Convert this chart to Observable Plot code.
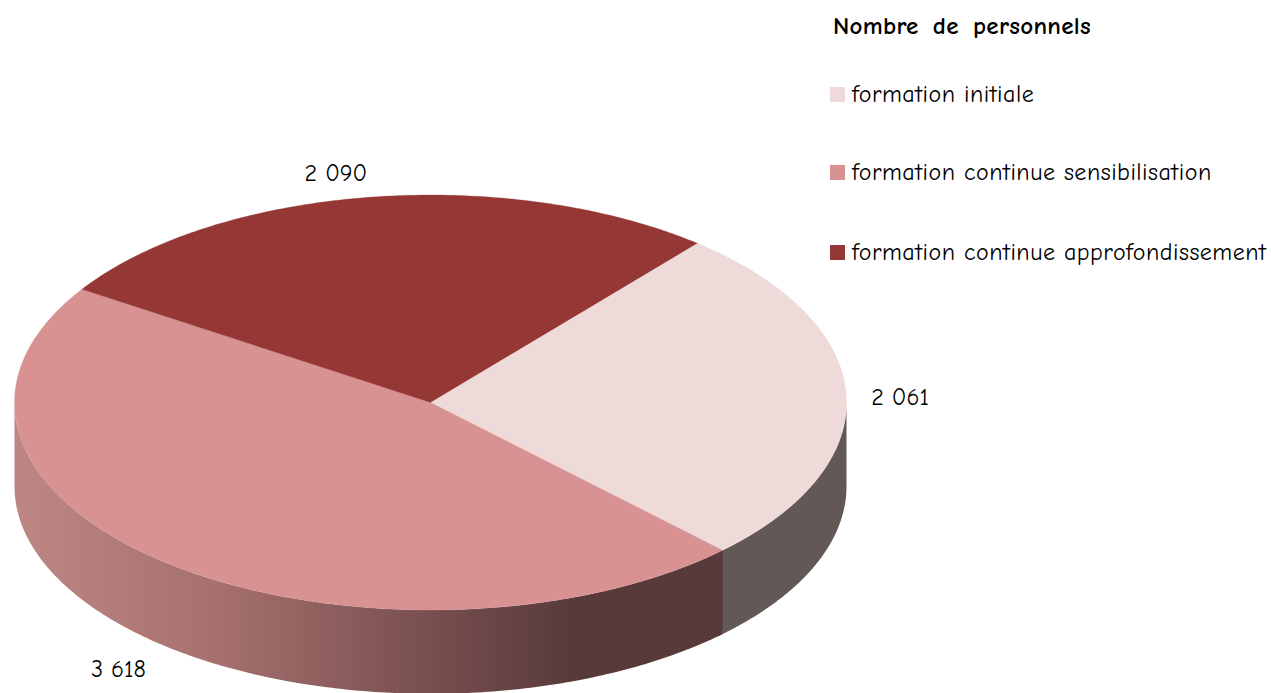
<!DOCTYPE html>
<html lang="fr">
<head>
<meta charset="utf-8">
<script src="https://cdn.jsdelivr.net/npm/d3@7"></script>
<script src="https://cdn.jsdelivr.net/npm/@observablehq/plot@0.6"></script>
<style>
  html, body { margin: 0; padding: 0; background: #fff; overflow: hidden; }
  #wrap { position: relative; width: 1271px; height: 693px; overflow: hidden; }
  #wrap svg { display: block; }
  .legend { font-family: "Comic Neue", "Open Sans", sans-serif; color: #000; }
  .legend div { position: absolute; white-space: nowrap; }
  .legend .title { left: 833px; top: 11px; font-size: 25px; font-weight: 700; line-height: 30px; word-spacing: 5px; letter-spacing: 0.3px; }
  .legend .item { left: 852px; font-size: 24px; line-height: 28px; letter-spacing: 0.5px; }
  .legend .swatch { left: 830px; width: 15px; height: 15px; }
</style>
</head>
<body>
<div id="wrap"></div>
<script>
const categories = ["formation initiale", "formation continue sensibilisation", "formation continue approfondissement"];
const values = [2061, 3618, 2090];
const labels = ["2 061", "3 618", "2 090"];
const colors = ["#EFDADA", "#D89292", "#953735"];
const title = "Nombre de personnels";

const startDeg = 39.9;
const tilt = 84 / 208;      // rim depth in y-scale units
const labelNudge = [[54, 3], [-49, 106], [-33, -24]];
const rad = d => d * Math.PI / 180;

const arcs = d3.pie().sort(null).startAngle(rad(startDeg)).endAngle(rad(startDeg) + 2 * Math.PI)(values);
const rim = (a, drop = 0) => ({x: Math.sin(a), y: Math.cos(a) - drop});
const sweep = (a0, a1) => d3.range(0, 181).map(i => a0 + (a1 - a0) * i / 180);

const slices = arcs.flatMap((s, i) => [
  {x: 0, y: 0, name: categories[i]},
  ...sweep(s.startAngle, s.endAngle).map(a => ({...rim(a), name: categories[i]}))
]);

// visible side wall, cut where the light slice meets the medium slice
const joint = arcs[0].endAngle;
const wall = (a0, a1) => [
  ...sweep(a0, a1).map(a => rim(a)),
  ...sweep(a1, a0).map(a => rim(a, tilt))
];
const wallLight = wall(rad(90), joint + rad(1));
const wallMedium = wall(joint, rad(270));

const labelRows = arcs.map((s, i) => ({...rim((s.startAngle + s.endAngle) / 2), text: labels[i]}));

const gradient = () => {
  const defs = d3.create("svg:defs");
  const g = defs.append("linearGradient").attr("id", "sideShade").attr("x1", 0).attr("x2", 1).attr("y1", 0).attr("y2", 0);
  [[0, "#BC8785"], [0.278, "#A7716F"], [0.575, "#7A5050"], [0.788, "#583A3B"], [1, "#583A3B"]]
    .forEach(([o, c]) => g.append("stop").attr("offset", o).attr("stop-color", c));
  return defs.node();
};

const chart = Plot.plot({
  width: 1271,
  height: 693,
  margin: 0,
  style: {background: "transparent", fontFamily: "'Comic Neue', 'Open Sans', sans-serif"},
  x: {domain: [-1, 1], range: [14, 846], axis: null},
  y: {domain: [-1, 1], range: [609.5, 194.5], axis: null},
  color: {domain: categories, range: colors},
  marks: [
    gradient,
    Plot.line(wallLight, {x: "x", y: "y", fill: "#625856", stroke: "none"}),
    Plot.line(wallMedium, {x: "x", y: "y", fill: "url(#sideShade)", stroke: "none"}),
    Plot.line(slices, {x: "x", y: "y", z: "name", fill: "name", stroke: "name", strokeWidth: 0.3}),
    ...labelRows.map((d, i) => Plot.text([d], {
      x: "x", y: "y", text: "text",
      dx: labelNudge[i][0], dy: labelNudge[i][1],
      fontSize: 24, fontWeight: 500, fill: "#000", textAnchor: "middle"
    }))
  ]
});

const wrap = document.getElementById("wrap");
wrap.appendChild(chart);

const legend = document.createElement("div");
legend.className = "legend";
const t = document.createElement("div");
t.className = "title";
t.textContent = title;
legend.appendChild(t);
const swatchTops = [87, 165, 245];
categories.forEach((c, i) => {
  const sw = document.createElement("div");
  sw.className = "swatch";
  sw.style.top = swatchTops[i] + "px";
  sw.style.background = colors[i];
  legend.appendChild(sw);
  const it = document.createElement("div");
  it.className = "item";
  it.style.top = (swatchTops[i] - 7) + "px";
  it.textContent = c;
  legend.appendChild(it);
});
wrap.appendChild(legend);
</script>
</body>
</html>
